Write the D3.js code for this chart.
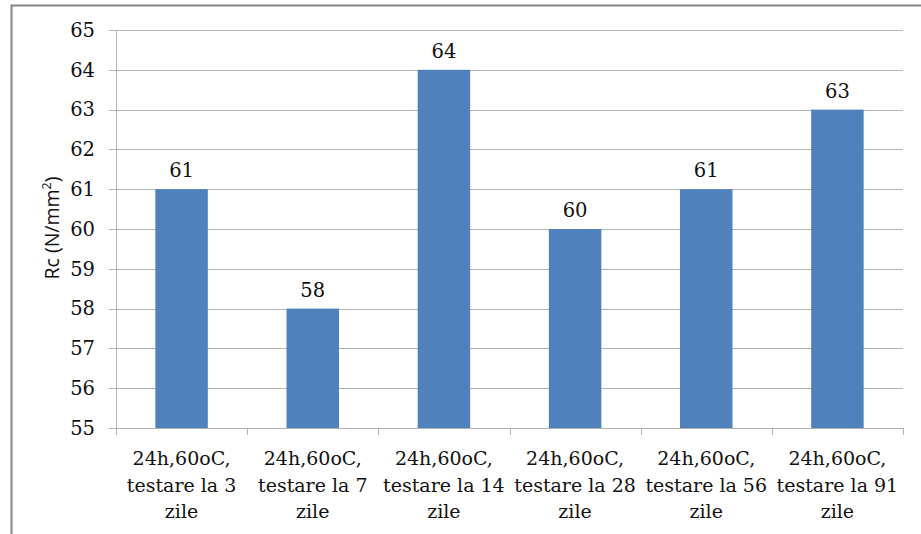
<!DOCTYPE html>
<html><head><meta charset="utf-8">
<script src="https://cdn.jsdelivr.net/npm/d3@7"></script>
<style>body{margin:0;background:#fff}svg{display:block}</style>
</head><body>
<svg id="c" width="921" height="534"></svg>
<script>
const categories = [
  ["24h,60oC,", "testare la 3", "zile"],
  ["24h,60oC,", "testare la 7", "zile"],
  ["24h,60oC,", "testare la 14", "zile"],
  ["24h,60oC,", "testare la 28", "zile"],
  ["24h,60oC,", "testare la 56", "zile"],
  ["24h,60oC,", "testare la 91", "zile"]
];
const values = [61, 58, 64, 60, 61, 63];
const yTicks = [55, 56, 57, 58, 59, 60, 61, 62, 63, 64, 65];

const svg = d3.select("#c");
const m = {left: 116, right: 903, top: 30, bottom: 428};
const serif = "'DejaVu Serif', serif";

// outer border
svg.append("path").attr("d", "M11.5,534 V5.5 H921").attr("fill", "none")
  .attr("stroke", "#868686").attr("stroke-width", 2);

const x = d3.scaleBand().domain(d3.range(categories.length)).range([m.left, m.right]).paddingInner(0.6).paddingOuter(0.3);
const xb = d3.scaleBand().domain(d3.range(categories.length)).range([m.left, m.right]);
const y = d3.scaleLinear().domain([55, 65]).range([m.bottom, m.top]);

// gridlines
svg.append("g").selectAll("line").data(yTicks).join("line")
  .attr("x1", m.left - 7).attr("x2", m.right)
  .attr("y1", d => Math.round(y(d)) + 0.5).attr("y2", d => Math.round(y(d)) + 0.5)
  .attr("stroke", "#b3b3b3").attr("stroke-width", 1);

// bars
svg.append("g").selectAll("rect").data(values).join("rect")
  .attr("x", (d, i) => x(i)).attr("width", x.bandwidth())
  .attr("y", d => y(d)).attr("height", d => y(55) - y(d))
  .attr("fill", "#4f81bd");

// y axis line
svg.append("line").attr("x1", m.left + 0.5).attr("x2", m.left + 0.5)
  .attr("y1", m.top).attr("y2", m.bottom).attr("stroke", "#b3b3b3");

// x axis line and ticks
svg.append("line").attr("x1", m.left).attr("x2", m.right)
  .attr("y1", m.bottom + 0.5).attr("y2", m.bottom + 0.5).attr("stroke", "#b3b3b3");
svg.append("g").selectAll("line").data(d3.range(categories.length + 1)).join("line")
  .attr("x1", i => Math.round(m.left + i * xb.bandwidth()) + 0.5)
  .attr("x2", i => Math.round(m.left + i * xb.bandwidth()) + 0.5)
  .attr("y1", m.bottom).attr("y2", m.bottom + 7).attr("stroke", "#b3b3b3");

// y tick labels
svg.append("g").selectAll("text").data(yTicks).join("text")
  .attr("x", 95).attr("y", d => y(d)).attr("dy", "0.35em")
  .attr("text-anchor", "end").attr("font-family", serif).attr("font-size", 19.5)
  .attr("fill", "#111").text(d => d);

// value labels
svg.append("g").selectAll("text").data(values).join("text")
  .attr("x", (d, i) => x(i) + x.bandwidth() / 2).attr("y", d => y(d) - 12)
  .attr("text-anchor", "middle").attr("font-family", serif).attr("font-size", 19.5)
  .attr("fill", "#111").text(d => d);

// category labels
const cl = svg.append("g").selectAll("text").data(categories).join("text")
  .attr("text-anchor", "middle").attr("font-family", serif).attr("font-size", 19).attr("fill", "#111");
cl.each(function(lines, i) {
  d3.select(this).selectAll("tspan").data(lines).join("tspan")
    .attr("x", xb(i) + xb.bandwidth() / 2)
    .attr("y", (l, j) => 465 + j * 26.5)
    .text(l => l);
});

// y axis title
const t = svg.append("text").attr("transform", "translate(59,228) rotate(-90)")
  .attr("text-anchor", "middle").attr("font-family", "'Open Sans', 'Liberation Sans', sans-serif")
  .attr("font-size", 19.5).attr("fill", "#111");
t.append("tspan").text("Rc (N/mm");
t.append("tspan").attr("font-size", 12.5).attr("dy", -8).text("2");
t.append("tspan").attr("dy", 8).text(")");
</script>
</body></html>
